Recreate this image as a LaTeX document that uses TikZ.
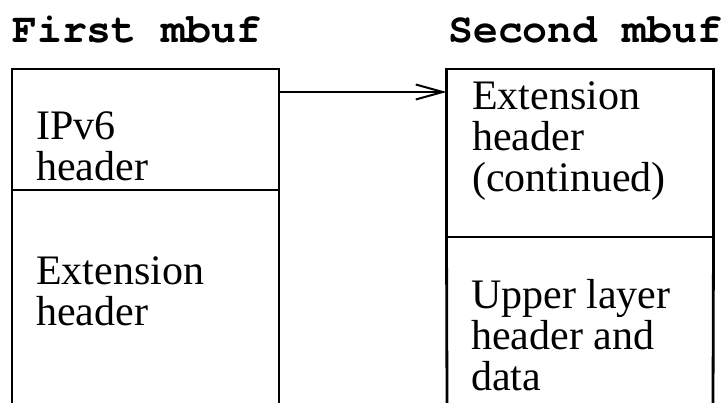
\documentclass[tikz,border=0pt]{standalone}
\usepackage{fontspec}
\setmainfont{Liberation Serif}
\newfontfamily\cursorfont{texgyrecursor}[Extension=.otf, UprightFont=*-regular, BoldFont=*-bold]
\usetikzlibrary{arrows.meta,calc}
\tikzset{
  frame/.style={line width=2.8pt},
  cell/.style={draw, line width=2.8pt, rectangle, inner sep=0pt, outer sep=0pt,
    minimum width=267pt},
  label/.style={inner sep=0pt, anchor=base west, align=left,
    font=\fontsize{42pt}{41pt}\selectfont},
  title/.style={inner sep=0pt, anchor=base west,
    font=\fontsize{41.5pt}{44pt}\selectfont\cursorfont\bfseries},
  link/.style={line width=2pt, -{Straight Barb[length=27pt,width=15pt,line width=2pt]}},
}
\begin{document}
\begin{tikzpicture}[x=1pt,y=-1pt]
  \useasboundingbox (0,0) rectangle (725,403);

  % column titles
  \node[title] (t1) at (12,43) {First mbuf};
  \node[title] (t2) at (448,43) {Second mbuf};

  % first mbuf: IPv6 header on top, extension header below
  \node[cell, minimum height=121pt] (ip) at (145.5,129.5) {};
  \draw[frame] (ip.south west) -- (12,403);
  \draw[frame] (ip.south east) -- (279,403);
  % (a multi-line node sits on the baseline of its last line)
  \node[label] (iptxt) at (36,181) {IPv6\\header};
  \node[label] (ext1) at (36,325) {Extension\\header};

  % second mbuf: continued extension header, then upper layer data
  \node[cell, minimum height=168pt] (ext2) at (580,153) {};
  \draw[frame] (ext2.south west) -- (447,403);
  \draw[frame] (ext2.south east) -- (713,403);
  \node[label] (ext2txt) at (472,192) {Extension\\header\\(continued)};
  \node[label] (upper) at (471,390) {Upper layer\\header and\\data};

  % pointer from the first mbuf to the next one
  \coordinate (p) at ($(ip.north east)+(0,23)$);
  \draw[link] (p) -- (p -| ext2.west);
\end{tikzpicture}
\end{document}
